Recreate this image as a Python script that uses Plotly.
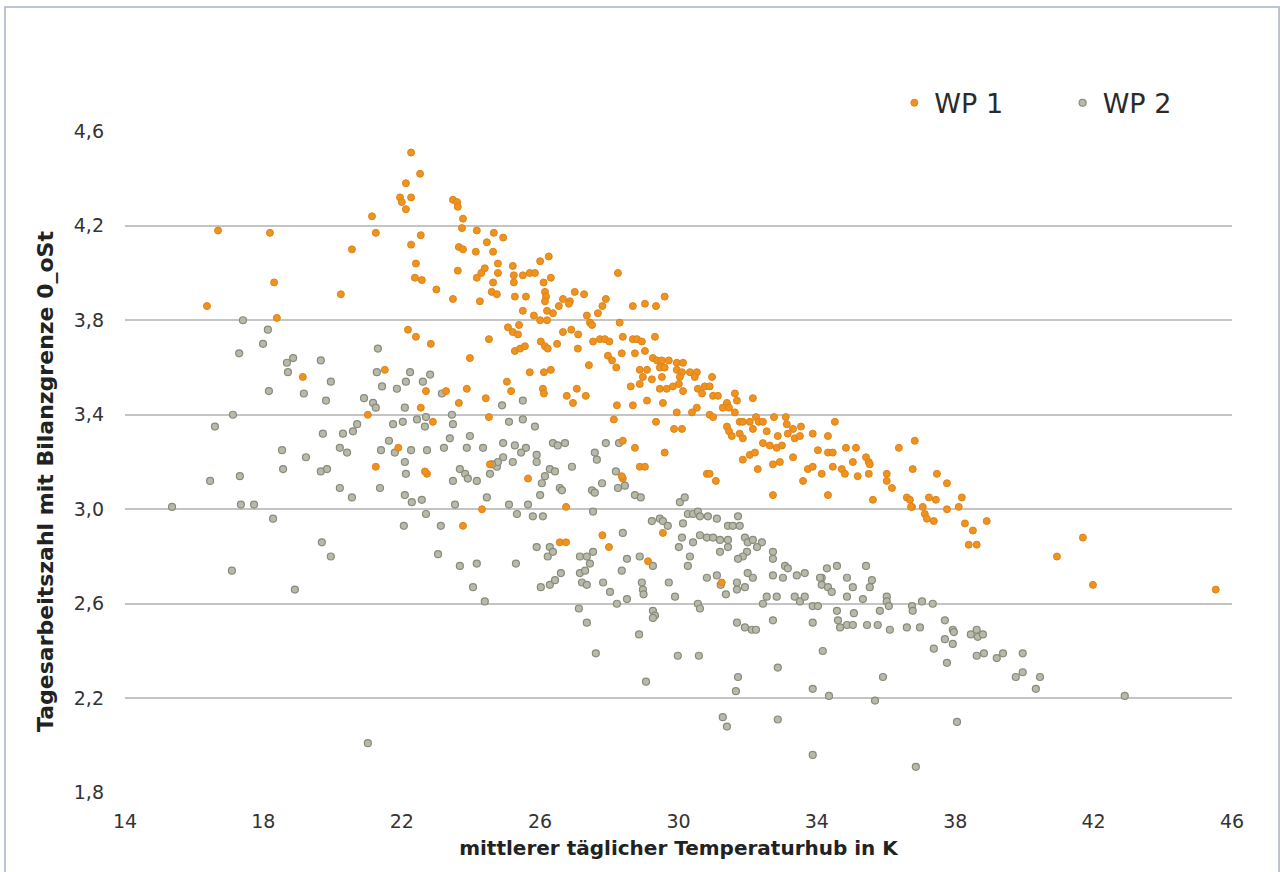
import plotly.graph_objects as go

# ---------------- data ----------------
wp1_x = [22.27, 22.53, 22.12, 21.95, 22.0, 22.27, 22.12, 21.14, 21.25, 23.48, 23.6, 23.62, 23.77, 23.74,
         24.17, 24.66, 22.55, 22.27, 24.46, 23.65, 23.77, 24.14, 24.64, 22.41, 23.62, 24.78, 24.4, 24.3,
         24.17, 24.78, 22.38, 22.58, 24.64, 23.0, 24.6, 24.75, 23.48, 24.26, 20.24, 20.56, 18.19, 16.69,
         18.31, 16.37, 18.39, 22.18, 22.41, 22.84, 24.52, 23.97, 21.51, 19.14, 23.88, 22.7, 23.28, 23.65,
         24.43, 22.55, 24.52, 21.02, 22.9, 21.9, 21.25, 22.73, 22.67, 24.55, 24.32, 23.77,
         24.93, 25.21, 25.24, 25.5, 25.7, 25.85, 26.0, 26.25, 25.24, 26.31, 26.1, 26.14, 26.17, 26.14,
         25.27, 25.59, 26.66, 26.86, 26.83, 27.0, 27.27, 26.54, 26.37, 26.2, 25.5, 25.82, 26.0, 26.2,
         27.9, 27.67, 27.8, 27.35, 27.44, 27.5, 28.25, 28.68, 29.03, 29.35, 29.6, 28.3, 25.07, 25.39,
         25.21, 25.36, 26.66, 26.9, 27.1, 27.53, 27.73, 27.87, 28.0, 28.39, 28.68, 28.8, 28.94, 29.32,
         26.02, 26.14, 26.22, 26.49, 25.27, 25.42, 25.56, 27.09, 27.96, 28.08, 28.2, 28.36, 28.74, 29.03,
         29.26, 29.38, 29.52, 29.72, 29.95, 30.13, 27.41, 25.7, 26.11, 26.31, 28.88, 29.09, 29.46, 29.6,
         29.95, 30.1, 30.33, 30.53, 28.97, 29.23, 29.52, 30.04, 30.47, 30.97, 25.04, 25.16, 26.08, 26.11,
         26.77, 26.95, 27.06, 27.32, 28.62, 28.88, 29.46, 29.66, 29.84, 30.01, 30.13, 30.56, 30.76, 30.9,
         29.09, 29.55, 30.68, 31.0, 31.14, 31.4, 31.63, 31.69, 32.15, 28.22, 28.68, 31.28, 31.46, 29.95,
         30.39, 30.53, 30.9, 31.0, 31.63, 31.77, 31.86, 32.06, 32.24, 32.32, 32.44, 32.76, 33.1, 28.13,
         29.35, 29.87, 30.1, 31.4, 31.46, 31.54, 31.77, 31.86, 32.15, 32.55, 32.87, 33.13, 33.31, 33.54,
         33.16, 33.36, 33.51, 33.88, 34.32, 34.52, 32.44, 32.64, 32.84, 32.99, 34.03, 34.32, 34.46, 32.06,
         32.21, 28.74, 29.6, 28.39,
         31.86, 32.73, 32.93, 33.31, 33.74, 33.88, 34.14, 34.46, 34.72, 34.81, 32.29, 33.6, 34.32, 32.73,
         30.82, 30.9, 31.08, 28.88, 29.03, 28.39, 28.36, 25.65, 26.75, 27.8, 27.99, 29.55, 29.12, 31.25,
         26.57, 26.75,
         36.83, 36.37, 34.84, 35.13, 35.04, 35.42, 35.5, 35.53, 35.18, 35.5, 36.02, 36.02, 36.77, 37.47,
         37.76, 36.17, 35.62, 36.6, 36.69, 36.75, 36.72, 37.06, 37.12, 37.18, 37.38, 37.24, 37.44, 37.76,
         38.1, 38.19, 38.28, 38.51, 38.39, 38.62, 38.91, 40.94, 41.69, 41.98, 45.53]
wp1_y = [4.51, 4.42, 4.38, 4.32, 4.30, 4.32, 4.27, 4.24, 4.17, 4.31, 4.30, 4.28, 4.23, 4.19,
         4.18, 4.17, 4.16, 4.12, 4.13, 4.11, 4.10, 4.09, 4.09, 4.04, 4.01, 4.04, 4.02, 4.00,
         3.98, 4.00, 3.98, 3.97, 3.96, 3.93, 3.92, 3.91, 3.89, 3.88, 3.91, 4.10, 4.17, 4.18,
         3.96, 3.86, 3.81, 3.76, 3.73, 3.70, 3.72, 3.64, 3.59, 3.56, 3.51, 3.50, 3.50, 3.45,
         3.47, 3.43, 3.39, 3.40, 3.37, 3.26, 3.18, 3.15, 3.16, 3.19, 3.00, 2.93,
         4.15, 4.03, 3.99, 3.99, 4.00, 4.00, 4.05, 4.07, 3.96, 3.98, 3.96, 3.92, 3.90, 3.88,
         3.90, 3.90, 3.89, 3.88, 3.87, 3.92, 3.91, 3.86, 3.83, 3.84, 3.84, 3.82, 3.80, 3.80,
         3.89, 3.83, 3.86, 3.82, 3.79, 3.78, 4.00, 3.86, 3.87, 3.86, 3.90, 3.79, 3.77, 3.78,
         3.75, 3.74, 3.75, 3.76, 3.74, 3.71, 3.72, 3.72, 3.71, 3.73, 3.72, 3.72, 3.71, 3.73,
         3.71, 3.69, 3.68, 3.70, 3.67, 3.68, 3.69, 3.68, 3.65, 3.63, 3.60, 3.66, 3.66, 3.67,
         3.64, 3.63, 3.63, 3.63, 3.62, 3.62, 3.61, 3.58, 3.58, 3.59, 3.59, 3.59, 3.60, 3.60,
         3.59, 3.58, 3.58, 3.58, 3.56, 3.55, 3.56, 3.56, 3.56, 3.56, 3.54, 3.50, 3.51, 3.49,
         3.48, 3.45, 3.51, 3.48, 3.52, 3.53, 3.51, 3.51, 3.52, 3.53, 3.50, 3.51, 3.52, 3.52,
         3.46, 3.45, 3.49, 3.48, 3.48, 3.45, 3.49, 3.46, 3.47, 3.44, 3.44, 3.43, 3.43, 3.41,
         3.41, 3.43, 3.40, 3.39, 3.41, 3.37, 3.37, 3.37, 3.39, 3.37, 3.37, 3.39, 3.39, 3.38,
         3.37, 3.34, 3.34, 3.35, 3.33, 3.31, 3.32, 3.30, 3.34, 3.33, 3.31, 3.36, 3.34, 3.35,
         3.32, 3.30, 3.31, 3.32, 3.31, 3.37, 3.28, 3.27, 3.26, 3.27, 3.25, 3.24, 3.24, 3.23,
         3.24, 3.26, 3.24, 3.29,
         3.21, 3.19, 3.20, 3.22, 3.17, 3.18, 3.15, 3.18, 3.17, 3.15, 3.17, 3.12, 3.06, 3.06,
         3.15, 3.15, 3.12, 3.18, 3.18, 3.13, 3.14, 3.13, 3.01, 2.89, 2.84, 2.90, 2.78, 2.69,
         2.86, 2.86,
         3.29, 3.26, 3.26, 3.26, 3.20, 3.22, 3.20, 3.19, 3.14, 3.15, 3.15, 3.12, 3.17, 3.15,
         3.11, 3.09, 3.04, 3.05, 3.04, 3.01, 3.01, 3.01, 2.98, 2.96, 2.95, 3.05, 3.04, 3.00,
         3.01, 3.05, 2.94, 2.91, 2.85, 2.85, 2.95, 2.80, 2.88, 2.68, 2.66]

wp2_x = [17.41, 18.13, 17.99, 17.3, 18.68, 18.86, 18.71, 19.66, 21.31, 19.95, 18.16, 19.17, 19.81, 17.12,
         16.6, 18.54, 19.23, 19.72, 20.3, 20.59, 20.71, 20.21, 20.42, 21.28, 21.43, 21.86, 22.12, 22.24,
         22.61, 22.82, 20.91, 21.17, 21.25, 22.09, 22.44, 22.7, 22.67, 23.16, 23.45, 23.48, 21.75, 22.03,
         23.39, 23.22, 23.88, 23.97, 24.35, 21.63, 21.4, 21.8, 22.27, 22.73, 16.46, 17.32, 15.36, 17.35,
         17.73, 18.28, 18.57, 19.66, 19.84, 20.21, 20.56, 19.69, 19.95, 17.09, 18.91, 21.02, 21.37, 22.09,
         22.12, 22.09, 22.29, 22.58, 22.7, 22.06, 23.13, 23.54, 23.05, 23.68, 24.17, 24.06, 24.4, 24.46,
         23.48, 23.68, 23.83, 23.91, 24.17, 24.55, 24.75,
         24.9, 25.5, 25.1, 25.5, 25.85, 24.93, 25.27, 25.59, 25.45, 24.93, 24.78, 24.61, 25.21, 25.9,
         25.9, 26.28, 26.43, 26.14, 26.05, 26.0, 26.37, 26.51, 26.72, 26.92, 26.57, 26.63, 27.5, 27.58,
         27.79, 28.25, 28.45, 27.58, 27.64, 27.9, 28.28, 28.19, 28.74, 28.91, 25.1, 25.33, 25.65, 25.79,
         26.08, 27.53, 29.23, 29.46, 29.55, 29.69, 30.04, 30.18, 30.13, 30.27, 30.42, 30.56, 30.62, 28.39,
         25.9, 26.28, 26.22, 26.37, 25.3, 27.15, 27.35, 27.53, 27.44, 28.51, 28.88, 29.26, 30.1, 30.42,
         30.62, 30.82, 31.0, 31.2, 31.43, 31.2, 31.43, 30.01, 30.33, 30.27, 30.85, 31.11, 31.43, 31.72,
         31.57, 31.77, 31.92, 32.0, 32.15, 32.41, 32.27, 31.98, 31.86, 31.72, 32.73, 32.73, 33.08, 33.16,
         33.42, 33.65, 32.73, 33.02, 32.0, 32.15, 34.14, 34.29, 34.58, 34.14, 34.32, 34.43, 34.87, 34.87,
         26.02, 26.28, 26.43, 26.6, 27.15, 27.21, 27.35, 27.3, 27.82, 28.02, 28.22, 28.51, 28.36, 28.94,
         28.97, 28.99, 29.72, 29.9, 30.82, 31.11, 31.22, 31.37, 31.69, 31.69, 31.92, 27.12, 27.35, 29.26,
         29.32, 29.26, 30.56, 30.62, 32.44, 32.55, 32.84, 33.36, 33.51, 33.65, 33.88, 34.03, 34.09, 34.58,
         34.61, 34.67, 34.87, 31.69, 31.92, 32.12, 32.24, 32.73, 33.88, 28.86, 27.61, 34.17, 29.98, 30.59,
         32.87, 29.06, 31.72, 31.66, 33.88, 34.35, 31.28, 31.4, 32.87, 33.88,
         35.42, 35.04, 35.59, 35.53, 35.33, 36.02, 36.02, 36.08, 35.07, 35.82, 36.75, 36.77, 37.04, 37.35,
         35.04, 35.45, 35.76, 36.11, 36.6, 36.98, 37.7, 37.93, 37.96, 37.7, 37.93, 37.38, 37.76, 38.45,
         38.62, 38.65, 38.8, 38.62, 38.83, 39.2, 39.38, 39.95, 39.75, 39.95, 40.45, 40.33, 35.91, 35.68,
         38.05, 36.86, 42.9]
wp2_y = [3.80, 3.76, 3.70, 3.66, 3.62, 3.64, 3.58, 3.63, 3.68, 3.54, 3.50, 3.49, 3.46, 3.40,
         3.35, 3.25, 3.22, 3.32, 3.32, 3.33, 3.36, 3.26, 3.24, 3.58, 3.52, 3.51, 3.54, 3.58,
         3.54, 3.57, 3.47, 3.45, 3.43, 3.43, 3.38, 3.39, 3.35, 3.49, 3.40, 3.36, 3.36, 3.37,
         3.30, 3.26, 3.26, 3.31, 3.26, 3.29, 3.25, 3.24, 3.25, 3.25, 3.12, 3.14, 3.01, 3.02,
         3.02, 2.96, 3.17, 3.16, 3.17, 3.09, 3.05, 2.86, 2.80, 2.74, 2.66, 2.01, 3.09, 3.20,
         3.15, 3.06, 3.03, 3.04, 2.98, 2.93, 2.93, 3.02, 2.81, 2.76, 2.77, 2.67, 2.61, 3.05,
         3.12, 3.17, 3.15, 3.13, 3.12, 3.15, 3.18,
         3.44, 3.46, 3.37, 3.38, 3.35, 3.28, 3.27, 3.26, 3.24, 3.22, 3.20, 3.19, 3.20, 3.23,
         3.20, 3.17, 3.16, 3.14, 3.11, 3.06, 3.28, 3.27, 3.28, 3.18, 3.09, 3.08, 3.08, 3.07,
         3.11, 3.09, 3.10, 3.24, 3.21, 3.28, 3.28, 3.16, 3.06, 3.05, 3.02, 2.98, 3.02, 2.97,
         2.97, 2.99, 2.95, 2.96, 2.95, 2.93, 3.03, 3.05, 2.94, 2.98, 2.98, 2.99, 2.97, 2.90,
         2.84, 2.84, 2.80, 2.82, 2.77, 2.80, 2.80, 2.82, 2.77, 2.79, 2.80, 2.76, 2.88, 2.86,
         2.89, 2.88, 2.88, 2.87, 2.87, 2.82, 2.84, 2.84, 2.80, 2.76, 2.97, 2.96, 2.93, 2.97,
         2.93, 2.93, 2.88, 2.86, 2.87, 2.86, 2.84, 2.82, 2.80, 2.79, 2.82, 2.79, 2.76, 2.75,
         2.72, 2.73, 2.72, 2.71, 2.73, 2.71, 2.71, 2.75, 2.76, 2.68, 2.67, 2.65, 2.71, 2.63,
         2.67, 2.68, 2.70, 2.73, 2.73, 2.69, 2.68, 2.74, 2.69, 2.65, 2.60, 2.62, 2.74, 2.69,
         2.66, 2.64, 2.69, 2.63, 2.71, 2.72, 2.68, 2.64, 2.69, 2.66, 2.67, 2.58, 2.52, 2.57,
         2.55, 2.54, 2.60, 2.58, 2.60, 2.63, 2.63, 2.63, 2.61, 2.63, 2.59, 2.59, 2.71, 2.57,
         2.53, 2.50, 2.51, 2.52, 2.50, 2.49, 2.49, 2.53, 2.52, 2.47, 2.39, 2.40, 2.38, 2.38,
         2.33, 2.27, 2.29, 2.23, 2.24, 2.21, 2.12, 2.08, 2.11, 1.96,
         2.76, 2.67, 2.70, 2.67, 2.62, 2.63, 2.61, 2.59, 2.56, 2.57, 2.59, 2.57, 2.61, 2.60,
         2.51, 2.51, 2.51, 2.49, 2.50, 2.50, 2.53, 2.49, 2.48, 2.45, 2.43, 2.41, 2.35, 2.47,
         2.49, 2.46, 2.47, 2.38, 2.39, 2.37, 2.39, 2.39, 2.29, 2.31, 2.29, 2.24, 2.29, 2.19,
         2.10, 1.91, 2.21]

series_names = ["WP 1", "WP 2"]
x_ticks = [14, 18, 22, 26, 30, 34, 38, 42, 46]
y_ticks = [1.8, 2.2, 2.6, 3.0, 3.4, 3.8, 4.2, 4.6]
x_title = "mittlerer täglicher Temperaturhub in K"
y_title = "Tagesarbeitszahl mit Bilanzgrenze 0_oSt"

# ---------------- figure ----------------
FONT = "DejaVu Sans, Liberation Sans, Arial, sans-serif"

fig = go.Figure()
fig.add_trace(go.Scatter(
    x=wp2_x, y=wp2_y, mode="markers", name=series_names[1], legend="legend2",
    marker=dict(size=7, color="#b7baa9", line=dict(color="#878b7c", width=1.2)),
))
fig.add_trace(go.Scatter(
    x=wp1_x, y=wp1_y, mode="markers", name=series_names[0], legend="legend",
    marker=dict(size=7, color="#f0921e", line=dict(color="#dd8418", width=1)),
))

fig.update_layout(
    width=1283, height=872,
    margin=dict(l=125, r=51, t=131, b=79),
    paper_bgcolor="white", plot_bgcolor="white",
    separators=",.",
    font=dict(family=FONT, color="#333333", size=18),
    showlegend=True,
    legend=dict(x=0.695, y=1.042, xanchor="left", yanchor="middle",
                font=dict(size=27, color="#2a2a2a", family=FONT),
                bgcolor="rgba(0,0,0,0)", itemwidth=30),
    legend2=dict(x=0.847, y=1.042, xanchor="left", yanchor="middle",
                 font=dict(size=27, color="#2a2a2a", family=FONT),
                 bgcolor="rgba(0,0,0,0)", itemwidth=30),
    xaxis=dict(range=[14, 46], tickvals=x_ticks, ticktext=[str(v) for v in x_ticks],
               showgrid=False, zeroline=False, showline=False, ticks="",
               tickfont=dict(size=19, color="#333333"), ticklabelstandoff=15,
               title=dict(text=x_title, font=dict(size=20, color="#222222", family=FONT,
                                                  weight="bold"), standoff=9)),
    yaxis=dict(range=[1.799, 4.601], tickvals=y_ticks, tickformat=".1f",
               showgrid=True, gridcolor="#c4c4c4", gridwidth=2,
               zeroline=False, showline=False, ticks="",
               tickfont=dict(size=19, color="#333333"), ticklabelstandoff=20),
    annotations=[dict(text=y_title, xref="paper", yref="paper",
                      x=(45 - 125) / 1107, y=(793 - 482) / 662,
                      xanchor="center", yanchor="middle", textangle=-90, showarrow=False,
                      font=dict(size=22, color="#222222", family=FONT, weight="bold"))],
    shapes=[dict(type="rect", xref="paper", yref="paper",
                 x0=-0.1084, x1=1.0425, y0=-0.14, y1=1.1873,
                 line=dict(color="#a9b3c4", width=1.5), fillcolor="rgba(0,0,0,0)",
                 layer="below")],
)

fig.write_html("out.html")
